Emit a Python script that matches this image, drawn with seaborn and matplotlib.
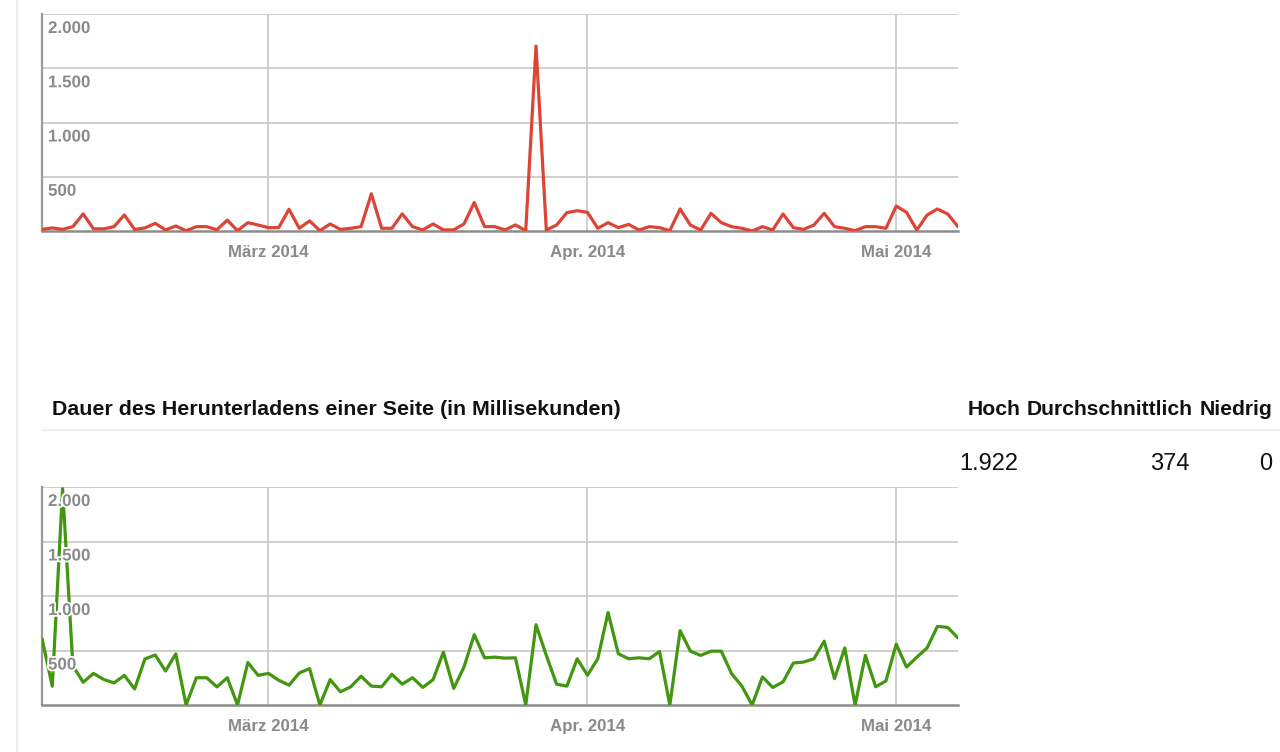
import matplotlib
matplotlib.use("Agg")
import matplotlib.pyplot as plt
import matplotlib.transforms as mtransforms
import matplotlib.patheffects as pe
from matplotlib.lines import Line2D
import pandas as pd
import seaborn as sns

# daily values, 7 Feb 2014 - 7 May 2014
days = pd.date_range("2014-02-07", periods=90, freq="D")

top_values = [
    15, 28, 15, 40, 158, 20, 20, 40, 148, 15,
    28, 70, 10, 46, 3, 40, 40, 12, 100, 3,
    77, 55, 31, 31, 200, 25, 93, 3, 65, 15,
    25, 40, 343, 25, 25, 158, 40, 10, 65, 10,
    10, 65, 263, 40, 40, 10, 56, 3, 1705, 9,
    55, 169, 187, 172, 25, 77, 31, 61, 9, 40,
    31, 3, 203, 55, 9, 163, 77, 40, 25, 0,
    40, 9, 157, 31, 15, 55, 163, 40, 25, 3,
    40, 40, 25, 230, 172, 9, 147, 203, 157, 40,
]

load_ms = [
    609, 172, 1985, 359, 209, 290, 234, 203, 272, 147,
    422, 459, 312, 469, 0, 250, 250, 166, 250, 0,
    390, 272, 290, 227, 182, 294, 333, 0, 233, 121,
    167, 264, 173, 167, 282, 191, 251, 161, 233, 485,
    152, 348, 645, 433, 439, 430, 433, 0, 736, 455,
    191, 173, 424, 273, 424, 848, 470, 424, 433, 424,
    491, 0, 682, 494, 455, 494, 494, 288, 173, 0,
    258, 161, 212, 385, 394, 424, 585, 242, 524, 0,
    455, 167, 221, 558, 348, 439, 524, 721, 712, 615,
]

month_ticks = pd.to_datetime(["2014-03-01", "2014-04-01", "2014-05-01"])
month_labels = ["März 2014", "Apr. 2014", "Mai 2014"]
y_ticks = [500, 1000, 1500, 2000]
y_labels = ["500", "1.000", "1.500", "2.000"]

title = "Dauer des Herunterladens einer Seite (in Millisekunden)"
stat_names = ["Hoch", "Durchschnittlich", "Niedrig"]
stat_values = ["1.922", "374", "0"]

sns.set_style("white")
plt.rcParams["font.family"] = ["Liberation Sans", "DejaVu Sans"]

W, H = 1280, 752
fig = plt.figure(figsize=(W / 100, H / 100), dpi=100)
label_grey = "#8a8a8a"


def style_chart(ax, values, color):
    sns.lineplot(x=days, y=values, ax=ax, color=color, linewidth=2.3, zorder=3)
    ax.set_xlim(days[0], days[-1])
    ax.set_ylim(0, 2000)
    ax.set_yticks(y_ticks)
    ax.set_yticklabels([])
    ax.set_xticks(month_ticks)
    ax.set_xticklabels(month_labels, fontsize=12.2, fontweight="bold", color=label_grey)
    for t in ax.get_xticklabels():
        t.set_va("baseline")
    ax.tick_params(axis="both", length=0)
    ax.tick_params(axis="x", pad=19)
    ax.grid(True, color="#cccccc", linewidth=1.3)
    ax.set_axisbelow(True)
    ax.set_xlabel("")
    ax.set_ylabel("")
    for side in ["top", "right"]:
        ax.spines[side].set_visible(False)
    ax.spines["left"].set_color("#999999")
    ax.spines["bottom"].set_color("#8c8c8c")
    ax.spines["left"].set_linewidth(1.6)
    ax.spines["bottom"].set_linewidth(1.8)
    trans = mtransforms.blended_transform_factory(ax.transAxes, ax.transData)
    for v, lab in zip(y_ticks, y_labels):
        ax.annotate(lab, xy=(0, v), xycoords=trans, xytext=(6, -7),
                    textcoords="offset pixels", ha="left", va="top",
                    fontsize=12.2, fontweight="bold", color=label_grey, zorder=5,
                    path_effects=[pe.withStroke(linewidth=2.5, foreground="white")])


ax1 = fig.add_axes([42 / W, 1 - 231 / H, 916 / W, 217 / H])
style_chart(ax1, top_values, "#dc4535")

ax2 = fig.add_axes([42 / W, 1 - 705 / H, 916 / W, 218 / H])
style_chart(ax2, load_ms, "#43960f")

# page furniture
fig.add_artist(Line2D([17 / W, 17 / W], [0, 1], color="#eeeeee", linewidth=1.5))
fig.add_artist(Line2D([42 / W, 1], [1 - 430 / H] * 2, color="#eeeeee", linewidth=1.5))

fig.text(52 / W, 1 - 409 / H, title, fontsize=15.4, fontweight="bold",
         color="#111111", ha="left", va="center")

name_right = [1018, 1190, 1272]
name_left = [968, 1027, 1200]
for x0, name in zip(name_left, stat_names):
    fig.text(x0 / W, 1 - 409 / H, name, fontsize=15.2, fontweight="bold",
             color="#111111", ha="left", va="center")
for x1, val in zip(name_right, stat_values):
    fig.text(x1 / W, 1 - 464 / H, val, fontsize=17, color="#111111",
             ha="right", va="center")

fig.savefig("out.png", dpi=100, facecolor="white")
